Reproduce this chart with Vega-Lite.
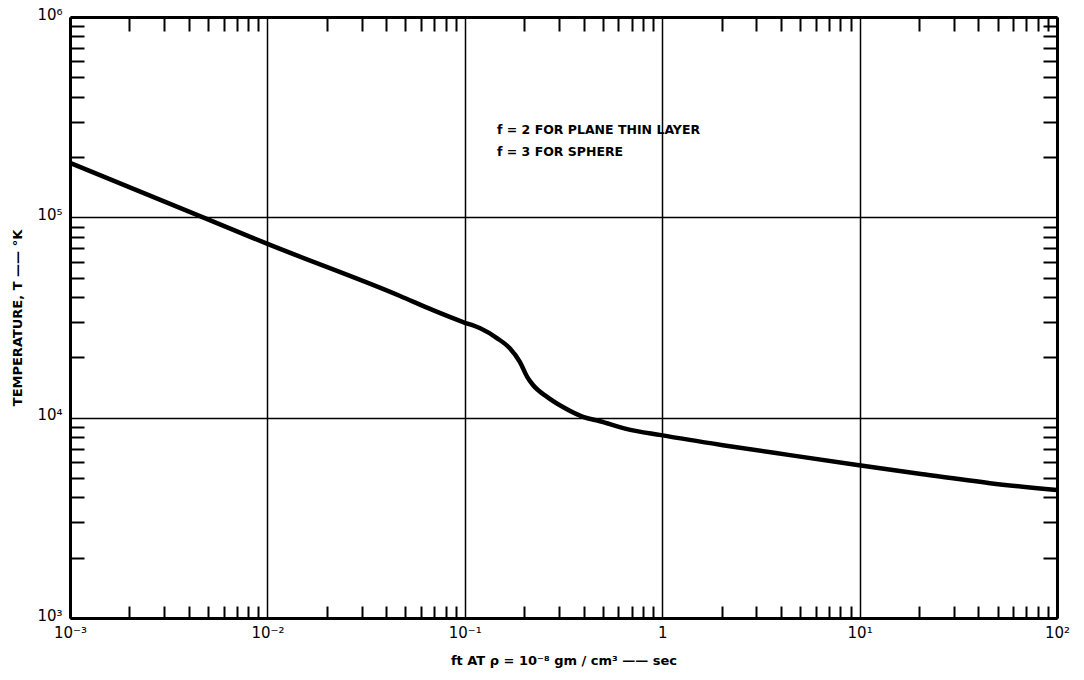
{
  "$schema": "https://vega.github.io/schema/vega-lite/v6.json",
  "width": 987,
  "height": 601,
  "autosize": {"type": "none"},
  "padding": {"left": 70, "top": 17, "right": 27, "bottom": 62},
  "background": "white",
  "config": {"view": {"stroke": null}, "font": "DejaVu Sans"},
  "data": {
    "values": [
      {"x": 0.001, "T": 187000},
      {"x": 0.00472, "T": 100000},
      {"x": 0.00973, "T": 74500},
      {"x": 0.047, "T": 40500},
      {"x": 0.069, "T": 34400},
      {"x": 0.098, "T": 30000},
      {"x": 0.119, "T": 28000},
      {"x": 0.146, "T": 24900},
      {"x": 0.169, "T": 22200},
      {"x": 0.19, "T": 19000},
      {"x": 0.207, "T": 16000},
      {"x": 0.221, "T": 14600},
      {"x": 0.261, "T": 12700},
      {"x": 0.314, "T": 11300},
      {"x": 0.397, "T": 10100},
      {"x": 0.484, "T": 9600},
      {"x": 0.664, "T": 8770},
      {"x": 0.987, "T": 8180},
      {"x": 2.03, "T": 7290},
      {"x": 4.44, "T": 6500},
      {"x": 9.93, "T": 5790},
      {"x": 20.9, "T": 5220},
      {"x": 45.8, "T": 4710},
      {"x": 100, "T": 4350}
    ]
  },
  "resolve": {"axis": {"x": "independent", "y": "independent"}},
  "layer": [
    {
      "mark": {"type": "line", "color": "black", "strokeWidth": 4.5, "interpolate": "monotone"},
      "encoding": {
        "x": {
          "field": "x", "type": "quantitative",
          "scale": {"type": "log", "domain": [0.001, 100], "nice": false},
          "axis": {
            "orient": "bottom", "values": [0.001, 0.01, 0.1, 1, 10, 100],
            "grid": true, "gridColor": "black", "gridWidth": 1.5, "gridOpacity": 1,
            "ticks": false, "domain": true, "domainColor": "black", "domainWidth": 3,
            "labelExpr": "['10⁻³','10⁻²','10⁻¹','1','10¹','10²'][round(log(datum.value)/LN10)+3]",
            "labelFontSize": 15, "labelColor": "black", "labelPadding": 7,
            "labelFlush": false, "labelOverlap": false,
            "title": "ft  AT  ρ = 10⁻⁸ gm / cm³ —— sec",
            "titleFontSize": 13, "titleFontWeight": "bold", "titleColor": "black", "titlePadding": 14
          }
        },
        "y": {
          "field": "T", "type": "quantitative",
          "scale": {"type": "log", "domain": [1000, 1000000], "nice": false},
          "axis": {
            "orient": "left", "values": [1000, 10000, 100000, 1000000],
            "grid": true, "gridColor": "black", "gridWidth": 1.5, "gridOpacity": 1,
            "ticks": false, "domain": true, "domainColor": "black", "domainWidth": 3,
            "labelExpr": "['10³','10⁴','10⁵','10⁶'][round(log(datum.value)/LN10)-3]",
            "labelFontSize": 15, "labelColor": "black", "labelPadding": 8,
            "labelFlush": false, "labelOverlap": false, "labelBaseline": "middle", "labelOffset": -3,
            "title": "TEMPERATURE,  T —— °K",
            "titleFontSize": 13, "titleFontWeight": "bold", "titleColor": "black", "titlePadding": 12
          }
        }
      }
    },
    {
      "mark": {"type": "line", "opacity": 0},
      "encoding": {
        "x": {
          "field": "x", "type": "quantitative",
          "axis": {
            "orient": "bottom",
            "values": [0.002,0.003,0.004,0.005,0.006,0.007,0.008,0.009,0.02,0.03,0.04,0.05,0.06,0.07,0.08,0.09,0.2,0.3,0.4,0.5,0.6,0.7,0.8,0.9,2,3,4,5,6,7,8,9,20,30,40,50,60,70,80,90],
            "grid": false, "domain": false, "labels": false, "title": null,
            "ticks": true, "tickSize": -12, "tickColor": "black", "tickWidth": 2
          }
        },
        "y": {
          "field": "T", "type": "quantitative",
          "axis": {
            "orient": "left",
            "values": [2000,3000,4000,5000,6000,7000,8000,9000,20000,30000,40000,50000,60000,70000,80000,90000,200000,300000,400000,500000,600000,700000,800000,900000],
            "grid": false, "domain": false, "labels": false, "title": null,
            "ticks": true, "tickSize": -14, "tickColor": "black", "tickWidth": 2
          }
        }
      }
    },
    {
      "mark": {"type": "line", "opacity": 0},
      "encoding": {
        "x": {
          "field": "x", "type": "quantitative",
          "axis": {
            "orient": "top",
            "values": [0.002,0.003,0.004,0.005,0.006,0.007,0.008,0.009,0.02,0.03,0.04,0.05,0.06,0.07,0.08,0.09,0.2,0.3,0.4,0.5,0.6,0.7,0.8,0.9,2,3,4,5,6,7,8,9,20,30,40,50,60,70,80,90],
            "grid": false, "domain": true, "domainColor": "black", "domainWidth": 3,
            "labels": false, "title": null,
            "ticks": true, "tickSize": -14, "tickColor": "black", "tickWidth": 2
          }
        },
        "y": {
          "field": "T", "type": "quantitative",
          "axis": {
            "orient": "right",
            "values": [2000,3000,4000,5000,6000,7000,8000,9000,20000,30000,40000,50000,60000,70000,80000,90000,200000,300000,400000,500000,600000,700000,800000,900000],
            "grid": false, "domain": true, "domainColor": "black", "domainWidth": 3,
            "labels": false, "title": null,
            "ticks": true, "tickSize": -14, "tickColor": "black", "tickWidth": 2
          }
        }
      }
    },
    {
      "data": {"values": [{"label": "f = 2  FOR  PLANE  THIN  LAYER"}]},
      "mark": {"type": "text", "align": "left", "baseline": "middle", "fontSize": 12.5, "fontWeight": "bold", "font": "DejaVu Sans", "color": "black"},
      "encoding": {
        "text": {"field": "label"},
        "x": {"datum": 0.1456, "type": "quantitative", "axis": null},
        "y": {"datum": 273000, "type": "quantitative", "axis": null}
      }
    },
    {
      "data": {"values": [{"label": "f = 3  FOR  SPHERE"}]},
      "mark": {"type": "text", "align": "left", "baseline": "middle", "fontSize": 12.5, "fontWeight": "bold", "font": "DejaVu Sans", "color": "black"},
      "encoding": {
        "text": {"field": "label"},
        "x": {"datum": 0.1456, "type": "quantitative", "axis": null},
        "y": {"datum": 212000, "type": "quantitative", "axis": null}
      }
    }
  ]
}
